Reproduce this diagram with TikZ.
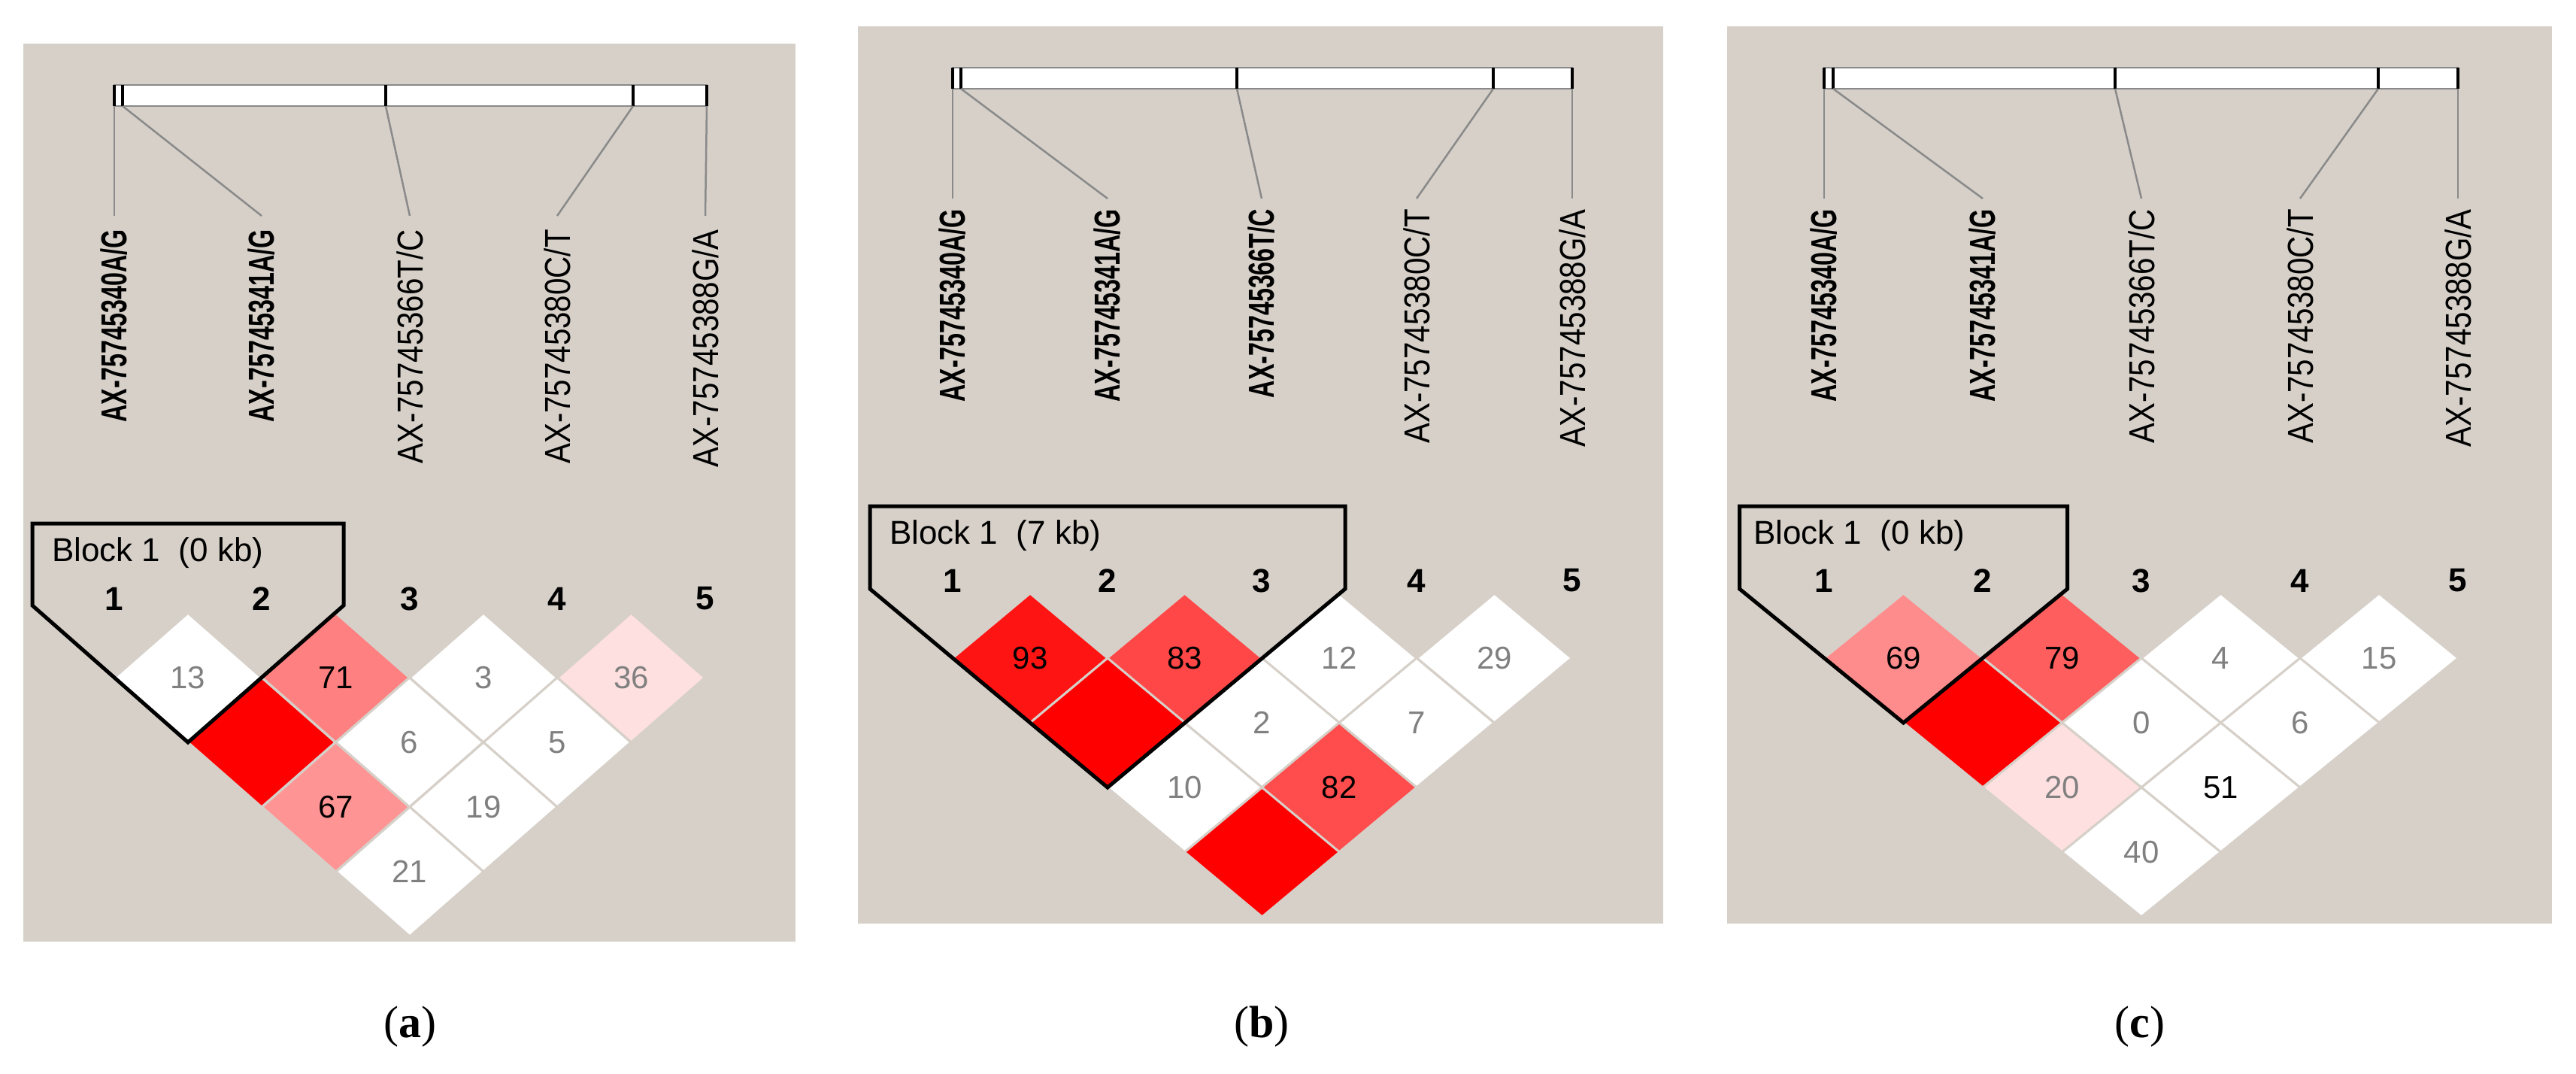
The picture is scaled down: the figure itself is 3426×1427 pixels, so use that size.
\documentclass[tikz,border=0pt]{standalone}
\usepackage{fontspec}
\setmainfont{Liberation Serif}
\newfontfamily\hv{Liberation Sans}
\definecolor{bgc}{HTML}{D6D0C9}
\definecolor{numgray}{HTML}{808080}
\definecolor{lgray}{HTML}{8A8A8A}
\tikzset{
  panelbg/.style={fill=bgc, draw=none},
  bar/.style={fill=white, draw=lgray, line width=2.5pt},
  tick/.style={draw=black, line width=4pt},
  conn/.style={draw=lgray, line width=2.5pt},
  snp/.style={font=\hv\fontsize{48}{48}\selectfont, rotate=90, anchor=east, inner sep=0pt, xscale=0.84},
  snpb/.style={snp, font=\hv\bfseries\fontsize{48}{48}\selectfont, xscale=0.80},
  colnum/.style={font=\hv\bfseries\fontsize{44}{44}\selectfont, inner sep=0pt},
  blocktxt/.style={font=\hv\fontsize{44}{44}\selectfont, anchor=west, inner sep=0pt},
  cellnum/.style={font=\hv\fontsize{42}{42}\selectfont, inner sep=0pt},
  block/.style={draw=black, line width=5pt, line join=miter},
  captext/.style={font=\fontsize{60}{60}\selectfont, inner sep=0pt}
}
\newcommand\ldcell[7]{%
  \filldraw[fill=#4, draw=bgc, line width=3pt] ({#1-#3},#2) -- (#1,{#2-86}) -- ({#1+#3},#2) -- (#1,{#2+86}) -- cycle;
  \node[cellnum, text=#6] (#7) at (#1,#2) {#5};}
\begin{document}
\begin{tikzpicture}[x=1pt,y=-1pt]
\useasboundingbox (0,0) rectangle (3426,1427);
\fill[white] (0,0) rectangle (3426,1427);

% ---------------- panel (a) ----------------
\begin{scope}[shift={(31,58)}]
\fill[panelbg] (0,0) rectangle (1027,1194);
\filldraw[bar] (121,55) rectangle (909,83);
\foreach \t/\n in {121/t1,132/t2,482/t3,811/t4,909/t5}{\draw[tick] (\t,55) -- (\t,83); \coordinate (a\n) at (\t,83);}
\foreach \c/\n in {121/1,317/2,514/3,710/4,907/5}{\coordinate (ae\n) at (\c,229);}
\foreach \n in {1,...,5}{\draw[conn] (at\n) -- (ae\n);}
\node[snpb] (al1) at (121,247) {AX-75745340A/G};
\node[snpb] (al2) at (317,247) {AX-75745341A/G};
\node[snp] (al3) at (514,247) {AX-75745366T/C};
\node[snp] (al4) at (710,247) {AX-75745380C/T};
\node[snp] (al5) at (907,247) {AX-75745388G/A};
\foreach \c/\n in {121/1,317/2,514/3,710/4,907/5}{\node[colnum] (an\n) at (\c,738) {\n};}
\ldcell{219}{843}{98}{white}{13}{numgray}{ac12}
\ldcell{415.5}{843}{98}{red!50!white}{71}{black}{ac23}
\ldcell{612}{843}{98}{white}{3}{numgray}{ac34}
\ldcell{808.5}{843}{98}{red!12!white}{36}{numgray}{ac45}
\ldcell{317}{929}{98}{red}{}{black}{ac13}
\ldcell{513.5}{929}{98}{white}{6}{numgray}{ac24}
\ldcell{710}{929}{98}{white}{5}{numgray}{ac35}
\ldcell{415.5}{1015}{98}{red!42!white}{67}{black}{ac14}
\ldcell{612}{1015}{98}{white}{19}{numgray}{ac25}
\ldcell{514}{1101}{98}{white}{21}{numgray}{ac15}
\draw[block] (219,929) -- (12,747) -- (12,638) -- (426,638) -- (426,747) -- cycle;
\node[blocktxt] (ab) at (38,677) {Block 1 \ (0 kb)};
\end{scope}

% ---------------- panel (b) ----------------
\begin{scope}[shift={(1141,35)}]
\fill[panelbg] (0,0) rectangle (1071,1193);
\filldraw[bar] (126,55) rectangle (950,83);
\foreach \t/\n in {126/t1,137/t2,504/t3,845/t4,950/t5}{\draw[tick] (\t,55) -- (\t,83); \coordinate (b\n) at (\t,83);}
\foreach \c/\n in {126/1,332/2,537/3,743/4,950/5}{\coordinate (be\n) at (\c,229);}
\foreach \n in {1,...,5}{\draw[conn] (bt\n) -- (be\n);}
\node[snpb] (bl1) at (126,243) {AX-75745340A/G};
\node[snpb] (bl2) at (332,243) {AX-75745341A/G};
\node[snpb] (bl3) at (537,243) {AX-75745366T/C};
\node[snp] (bl4) at (743,243) {AX-75745380C/T};
\node[snp] (bl5) at (950,243) {AX-75745388G/A};
\foreach \c/\n in {126/1,332/2,537/3,743/4,950/5}{\node[colnum] (bn\n) at (\c,737) {\n};}
\ldcell{229}{840}{103}{red!92!white}{93}{black}{bc12}
\ldcell{434.5}{840}{103}{red!72!white}{83}{black}{bc23}
\ldcell{640}{840}{103}{white}{12}{numgray}{bc34}
\ldcell{846.5}{840}{103}{white}{29}{numgray}{bc45}
\ldcell{332}{926}{103}{red}{}{black}{bc13}
\ldcell{537.5}{926}{103}{white}{2}{numgray}{bc24}
\ldcell{743}{926}{103}{white}{7}{numgray}{bc35}
\ldcell{434.5}{1012}{103}{white}{10}{numgray}{bc14}
\ldcell{640}{1012}{103}{red!70!white}{82}{black}{bc25}
\ldcell{537.5}{1098}{103}{red}{}{black}{bc15}
\draw[block] (332,1012) -- (16,748) -- (16,638) -- (648,638) -- (648,748) -- cycle;
\node[blocktxt] (bb) at (42,677) {Block 1 \ (7 kb)};
\end{scope}

% ---------------- panel (c) ----------------
\begin{scope}[shift={(2297,35)}]
\fill[panelbg] (0,0) rectangle (1097,1193);
\filldraw[bar] (129,55) rectangle (972,83);
\foreach \t/\n in {129/t1,141/t2,516/t3,866/t4,972/t5}{\draw[tick] (\t,55) -- (\t,83); \coordinate (c\n) at (\t,83);}
\foreach \c/\n in {129/1,340/2,551/3,762/4,972/5}{\coordinate (ce\n) at (\c,229);}
\foreach \n in {1,...,5}{\draw[conn] (ct\n) -- (ce\n);}
\node[snpb] (cl1) at (129,243) {AX-75745340A/G};
\node[snpb] (cl2) at (340,243) {AX-75745341A/G};
\node[snp] (cl3) at (551,243) {AX-75745366T/C};
\node[snp] (cl4) at (762,243) {AX-75745380C/T};
\node[snp] (cl5) at (972,243) {AX-75745388G/A};
\foreach \c/\n in {129/1,340/2,551/3,762/4,972/5}{\node[colnum] (cn\n) at (\c,737) {\n};}
\ldcell{234.5}{840}{105.5}{red!45!white}{69}{black}{cc12}
\ldcell{445.5}{840}{105.5}{red!63!white}{79}{black}{cc23}
\ldcell{656.5}{840}{105.5}{white}{4}{numgray}{cc34}
\ldcell{867}{840}{105.5}{white}{15}{numgray}{cc45}
\ldcell{340}{926}{105.5}{red}{}{black}{cc13}
\ldcell{551}{926}{105.5}{white}{0}{numgray}{cc24}
\ldcell{762}{926}{105.5}{white}{6}{numgray}{cc35}
\ldcell{445.5}{1012}{105.5}{red!12!white}{20}{numgray}{cc14}
\ldcell{656.5}{1012}{105.5}{white}{51}{black}{cc25}
\ldcell{551}{1098}{105.5}{white}{40}{numgray}{cc15}
\draw[block] (234.5,926) -- (16.5,748) -- (16.5,638) -- (452.5,638) -- (452.5,748) -- cycle;
\node[blocktxt] (cb) at (35,677) {Block 1 \ (0 kb)};
\end{scope}

% captions
\node[captext] (capa) at (545,1365) {(\textbf{a})};
\node[captext] (capb) at (1678,1365) {(\textbf{b})};
\node[captext] (capc) at (2846,1365) {(\textbf{c})};
\end{tikzpicture}
\end{document}
